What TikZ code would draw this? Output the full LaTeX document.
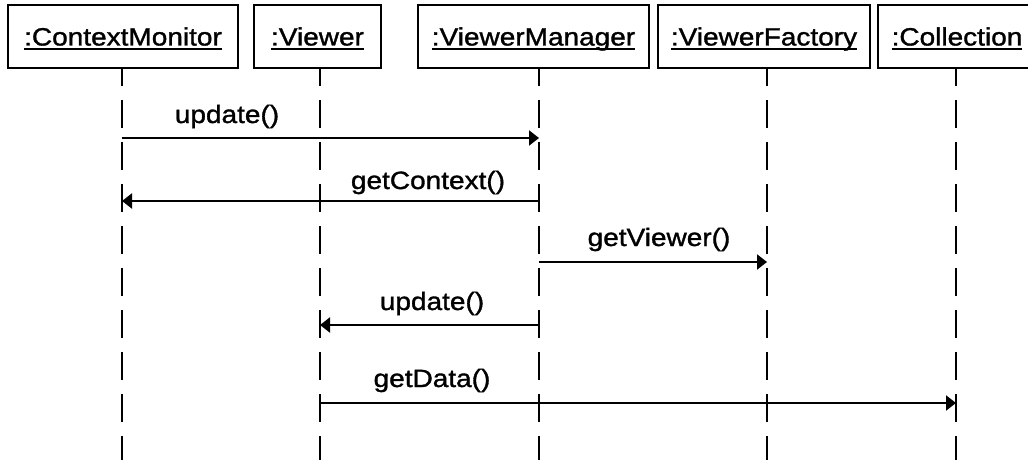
\documentclass[tikz,border=0pt]{standalone}
\usepackage{fontspec}
\setmainfont[FakeStretch=1.12,FakeBold=1.3]{Liberation Sans}
\usetikzlibrary{arrows.meta}
\begin{document}
\begin{tikzpicture}[x=1pt,y=-1pt,
  every node/.style={font=\fontsize{25pt}{28pt}\selectfont, inner sep=0pt, outer sep=0pt},
  objbox/.style={draw, line width=2pt, minimum height=63pt},
  objname/.style={anchor=base},
  uline/.style={line width=2pt},
  lifeline/.style={line width=2pt, dash pattern=on 28pt off 14pt, dash phase=10pt},
  msg/.style={line width=2pt, -{Triangle[length=10pt,width=15pt]}},
  msglabel/.style={anchor=base}]
\clip (0,0) rectangle (1028,460);
\fill[white] (0,0) rectangle (1028,460);

% object boxes
\node[objbox, minimum width=230pt] (cm) at (123,36.5) {};
\node[objbox, minimum width=127pt] (vw) at (317.5,36.5) {};
\node[objbox, minimum width=231pt] (vm) at (533.5,36.5) {};
\node[objbox, minimum width=212pt] (vf) at (764,36.5) {};
\node[objbox, minimum width=158pt] (co) at (957,36.5) {};

% underlined object names
\coordinate (nameline) at (0,45.5);
\node[objname] (cmT) at (cm.center |- nameline) {:ContextMonitor};
\node[objname] (vwT) at (vw.center |- nameline) {:Viewer};
\node[objname] (vmT) at (vm.center |- nameline) {:ViewerManager};
\node[objname] (vfT) at (vf.center |- nameline) {:ViewerFactory};
\node[objname] (coT) at (co.center |- nameline) {:Collection};
\foreach \t in {cmT,vwT,vmT,vfT,coT}
  \draw[uline] ([yshift=-3.8pt]\t.base west) -- ([yshift=-3.8pt]\t.base east);

% lifelines
\coordinate (cmL) at (122,68);
\coordinate (vwL) at (320,68);
\coordinate (vmL) at (539,68);
\coordinate (vfL) at (767,68);
\coordinate (coL) at (956,68);
\coordinate (bottom) at (0,462);
\foreach \l in {cmL,vwL,vmL,vfL,coL}
  \draw[lifeline] (\l) -- (\l |- bottom);

% messages
\coordinate (m1) at (0,138);
\coordinate (m2) at (0,201);
\coordinate (m3) at (0,262);
\coordinate (m4) at (0,325);
\coordinate (m5) at (0,403);
\draw[msg] (cmL |- m1) -- (vmL |- m1);
\draw[msg] (vmL |- m2) -- (cmL |- m2);
\draw[msg] (vmL |- m3) -- (vfL |- m3);
\draw[msg] (vmL |- m4) -- (vwL |- m4);
\draw[msg] (vwL |- m5) -- (coL |- m5);

\node[msglabel] (l1) at (227,123) {update()};
\node[msglabel] (l2) at (428,189) {getContext()};
\node[msglabel] (l3) at (659,246) {getViewer()};
\node[msglabel] (l4) at (432,310) {update()};
\node[msglabel] (l5) at (432,387) {getData()};
\end{tikzpicture}
\end{document}
